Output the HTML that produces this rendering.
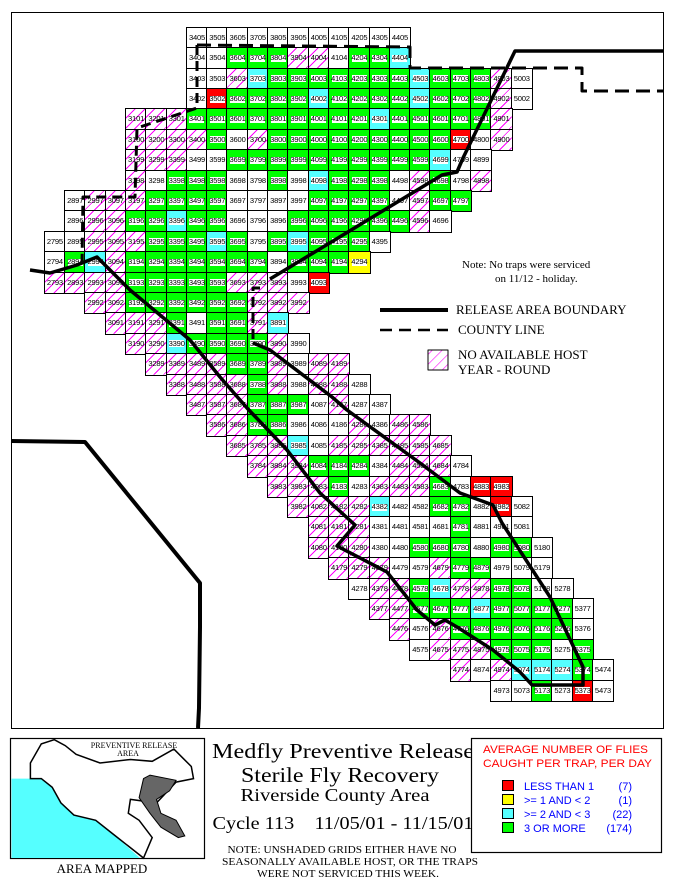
<!DOCTYPE html>
<html><head><meta charset="utf-8"><style>
body{margin:0;width:675px;height:886px;background:#fff;position:relative;overflow:hidden;font-family:"Liberation Sans",sans-serif}
.r{position:absolute;display:flex;height:20.4px}
.r i{font-style:normal;display:block;width:20.3px;height:20.4px;box-sizing:border-box;outline:1px solid #000;outline-offset:-0.5px;font-size:7.6px;line-height:20.4px;text-align:center;letter-spacing:-0.2px;color:#000;background-repeat:no-repeat;background-position:center;background-size:15px 7px}
.w{background-color:#fff}
.r .h{background-image:repeating-linear-gradient(135deg,#fff 0 6px,#f0f 6px 7px);background-size:auto;background-color:#fff}
.g{background-image:linear-gradient(#fff,#fff);background-color:#0f0}
.c{background-image:linear-gradient(#fff,#fff);background-color:#5ff}
.r .rd{background-image:linear-gradient(#fff,#fff);background-color:#f00}
.y{background-image:linear-gradient(#fff,#fff);background-color:#ff0}
svg{position:absolute;left:0;top:0}
</style></head><body>
<div style="position:absolute;left:11px;top:12px;width:651px;height:715px;border:1.5px solid #000"></div>

<div class="r" style="left:186.85px;top:27.8px"><i class="w">3405</i><i class="w">3505</i><i class="w">3605</i><i class="w">3705</i><i class="w">3805</i><i class="w">3905</i><i class="w">4005</i><i class="w">4105</i><i class="w">4205</i><i class="w">4305</i><i class="w">4405</i></div>
<div class="r" style="left:186.85px;top:48.2px"><i class="w">3404</i><i class="w">3504</i><i class="g">3604</i><i class="g">3704</i><i class="g">3804</i><i class="h">3904</i><i class="h">4004</i><i class="w">4104</i><i class="g">4204</i><i class="g">4304</i><i class="c">4404</i></div>
<div class="r" style="left:186.85px;top:68.6px"><i class="w">3403</i><i class="w">3503</i><i class="h">3603</i><i class="c">3703</i><i class="g">3803</i><i class="g">3903</i><i class="g">4003</i><i class="g">4103</i><i class="g">4203</i><i class="g">4303</i><i class="g">4403</i><i class="c">4503</i><i class="g">4603</i><i class="g">4703</i><i class="g">4803</i><i class="h">4903</i><i class="w">5003</i></div>
<div class="r" style="left:186.85px;top:89px"><i class="w">3402</i><i class="rd">3502</i><i class="g">3602</i><i class="g">3702</i><i class="g">3802</i><i class="g">3902</i><i class="c">4002</i><i class="g">4102</i><i class="g">4202</i><i class="g">4302</i><i class="g">4402</i><i class="c">4502</i><i class="g">4602</i><i class="g">4702</i><i class="g">4802</i><i class="h">4902</i><i class="w">5002</i></div>
<div class="r" style="left:125.95px;top:109.4px"><i class="h">3101</i><i class="h">3201</i><i class="h">3301</i><i class="g">3401</i><i class="g">3501</i><i class="g">3601</i><i class="g">3701</i><i class="g">3801</i><i class="g">3901</i><i class="g">4001</i><i class="g">4101</i><i class="g">4201</i><i class="c">4301</i><i class="g">4401</i><i class="g">4501</i><i class="g">4601</i><i class="g">4701</i><i class="g">4801</i><i class="h">4901</i></div>
<div class="r" style="left:125.95px;top:129.8px"><i class="h">3100</i><i class="h">3200</i><i class="h">3300</i><i class="h">3400</i><i class="g">3500</i><i class="w">3600</i><i class="h">3700</i><i class="g">3800</i><i class="g">3900</i><i class="g">4000</i><i class="g">4100</i><i class="g">4200</i><i class="g">4300</i><i class="g">4400</i><i class="g">4500</i><i class="g">4600</i><i class="rd">4700</i><i class="w">4800</i><i class="h">4900</i></div>
<div class="r" style="left:125.95px;top:150.2px"><i class="h">3199</i><i class="h">3299</i><i class="h">3399</i><i class="w">3499</i><i class="w">3599</i><i class="g">3699</i><i class="g">3799</i><i class="g">3899</i><i class="g">3999</i><i class="g">4099</i><i class="g">4199</i><i class="g">4299</i><i class="g">4399</i><i class="g">4499</i><i class="g">4599</i><i class="c">4699</i><i class="w">4799</i><i class="w">4899</i></div>
<div class="r" style="left:125.95px;top:170.6px"><i class="h">3198</i><i class="w">3298</i><i class="g">3398</i><i class="g">3498</i><i class="g">3598</i><i class="w">3698</i><i class="w">3798</i><i class="g">3898</i><i class="w">3998</i><i class="c">4098</i><i class="g">4198</i><i class="g">4298</i><i class="g">4398</i><i class="w">4498</i><i class="h">4598</i><i class="g">4698</i><i class="w">4798</i><i class="h">4898</i></div>
<div class="r" style="left:65.05px;top:191px"><i class="w">2897</i><i class="h">2997</i><i class="h">3097</i><i class="h">3197</i><i class="g">3297</i><i class="g">3397</i><i class="g">3497</i><i class="g">3597</i><i class="w">3697</i><i class="w">3797</i><i class="w">3897</i><i class="w">3997</i><i class="g">4097</i><i class="g">4197</i><i class="g">4297</i><i class="g">4397</i><i class="w">4497</i><i class="h">4597</i><i class="g">4697</i><i class="g">4797</i></div>
<div class="r" style="left:65.05px;top:211.4px"><i class="w">2896</i><i class="h">2996</i><i class="h">3096</i><i class="g">3196</i><i class="g">3296</i><i class="c">3396</i><i class="g">3496</i><i class="g">3596</i><i class="w">3696</i><i class="w">3796</i><i class="w">3896</i><i class="g">3996</i><i class="g">4096</i><i class="g">4196</i><i class="g">4296</i><i class="g">4396</i><i class="g">4496</i><i class="h">4596</i><i class="w">4696</i></div>
<div class="r" style="left:44.75px;top:231.8px"><i class="w">2795</i><i class="w">2895</i><i class="h">2995</i><i class="h">3095</i><i class="h">3195</i><i class="g">3295</i><i class="g">3395</i><i class="g">3495</i><i class="c">3595</i><i class="g">3695</i><i class="w">3795</i><i class="g">3895</i><i class="c">3995</i><i class="g">4095</i><i class="g">4195</i><i class="g">4295</i><i class="w">4395</i></div>
<div class="r" style="left:44.75px;top:252.2px"><i class="w">2794</i><i class="g">2894</i><i class="c">2994</i><i class="h">3094</i><i class="g">3194</i><i class="g">3294</i><i class="g">3394</i><i class="g">3494</i><i class="g">3594</i><i class="g">3694</i><i class="g">3794</i><i class="w">3894</i><i class="g">3994</i><i class="g">4094</i><i class="g">4194</i><i class="y">4294</i></div>
<div class="r" style="left:44.75px;top:272.6px"><i class="h">2793</i><i class="h">2893</i><i class="h">2993</i><i class="h">3093</i><i class="g">3193</i><i class="g">3293</i><i class="g">3393</i><i class="g">3493</i><i class="g">3593</i><i class="h">3693</i><i class="h">3793</i><i class="h">3893</i><i class="w">3993</i><i class="rd">4093</i></div>
<div class="r" style="left:85.35px;top:293px"><i class="h">2992</i><i class="h">3092</i><i class="g">3192</i><i class="g">3292</i><i class="g">3392</i><i class="g">3492</i><i class="g">3592</i><i class="g">3692</i><i class="h">3792</i><i class="h">3892</i><i class="h">3992</i></div>
<div class="r" style="left:105.65px;top:313.4px"><i class="h">3091</i><i class="h">3191</i><i class="h">3291</i><i class="g">3391</i><i class="w">3491</i><i class="g">3591</i><i class="g">3691</i><i class="h">3791</i><i class="c">3891</i></div>
<div class="r" style="left:125.95px;top:333.8px"><i class="h">3190</i><i class="h">3290</i><i class="c">3390</i><i class="g">3490</i><i class="g">3590</i><i class="g">3690</i><i class="g">3790</i><i class="h">3890</i><i class="w">3990</i></div>
<div class="r" style="left:146.25px;top:354.2px"><i class="h">3289</i><i class="h">3389</i><i class="h">3489</i><i class="h">3589</i><i class="g">3689</i><i class="g">3789</i><i class="h">3889</i><i class="w">3989</i><i class="h">4089</i><i class="h">4189</i></div>
<div class="r" style="left:166.55px;top:374.6px"><i class="h">3388</i><i class="h">3488</i><i class="h">3588</i><i class="h">3688</i><i class="g">3788</i><i class="h">3888</i><i class="w">3988</i><i class="h">4088</i><i class="h">4188</i><i class="w">4288</i></div>
<div class="r" style="left:186.85px;top:395px"><i class="h">3487</i><i class="h">3587</i><i class="h">3687</i><i class="g">3787</i><i class="g">3887</i><i class="g">3987</i><i class="w">4087</i><i class="h">4187</i><i class="w">4287</i><i class="w">4387</i></div>
<div class="r" style="left:207.15px;top:415.4px"><i class="h">3586</i><i class="h">3686</i><i class="g">3786</i><i class="g">3886</i><i class="w">3986</i><i class="w">4086</i><i class="w">4186</i><i class="h">4286</i><i class="w">4386</i><i class="h">4486</i><i class="h">4586</i></div>
<div class="r" style="left:227.45px;top:435.8px"><i class="h">3685</i><i class="h">3785</i><i class="h">3885</i><i class="c">3985</i><i class="w">4085</i><i class="h">4185</i><i class="h">4285</i><i class="h">4385</i><i class="h">4485</i><i class="h">4585</i><i class="h">4685</i></div>
<div class="r" style="left:247.75px;top:456.2px"><i class="h">3784</i><i class="h">3884</i><i class="h">3984</i><i class="g">4084</i><i class="g">4184</i><i class="g">4284</i><i class="w">4384</i><i class="h">4484</i><i class="h">4584</i><i class="h">4684</i><i class="w">4784</i></div>
<div class="r" style="left:268.05px;top:476.6px"><i class="h">3883</i><i class="h">3983</i><i class="h">4083</i><i class="g">4183</i><i class="w">4283</i><i class="h">4383</i><i class="h">4483</i><i class="h">4583</i><i class="g">4683</i><i class="w">4783</i><i class="rd">4883</i><i class="rd">4983</i></div>
<div class="r" style="left:288.35px;top:497px"><i class="h">3982</i><i class="h">4082</i><i class="h">4182</i><i class="h">4282</i><i class="c">4382</i><i class="w">4482</i><i class="w">4582</i><i class="g">4682</i><i class="g">4782</i><i class="w">4882</i><i class="rd">4982</i><i class="w">5082</i></div>
<div class="r" style="left:308.65px;top:517.4px"><i class="h">4081</i><i class="h">4181</i><i class="h">4281</i><i class="w">4381</i><i class="w">4481</i><i class="w">4581</i><i class="w">4681</i><i class="g">4781</i><i class="w">4881</i><i class="w">4981</i><i class="w">5081</i></div>
<div class="r" style="left:308.65px;top:537.8px"><i class="h">4080</i><i class="h">4180</i><i class="h">4280</i><i class="w">4380</i><i class="w">4480</i><i class="g">4580</i><i class="g">4680</i><i class="g">4780</i><i class="w">4880</i><i class="g">4980</i><i class="g">5080</i><i class="w">5180</i></div>
<div class="r" style="left:328.95px;top:558.2px"><i class="h">4179</i><i class="h">4279</i><i class="h">4379</i><i class="w">4479</i><i class="w">4579</i><i class="h">4679</i><i class="g">4779</i><i class="g">4879</i><i class="w">4979</i><i class="w">5079</i><i class="w">5179</i></div>
<div class="r" style="left:349.25px;top:578.6px"><i class="w">4278</i><i class="h">4378</i><i class="h">4478</i><i class="g">4578</i><i class="c">4678</i><i class="h">4778</i><i class="h">4878</i><i class="g">4978</i><i class="g">5078</i><i class="w">5178</i><i class="w">5278</i></div>
<div class="r" style="left:369.55px;top:599px"><i class="h">4377</i><i class="h">4477</i><i class="g">4577</i><i class="g">4677</i><i class="g">4777</i><i class="c">4877</i><i class="g">4977</i><i class="g">5077</i><i class="g">5177</i><i class="g">5277</i><i class="w">5377</i></div>
<div class="r" style="left:389.85px;top:619.4px"><i class="h">4476</i><i class="w">4576</i><i class="h">4676</i><i class="g">4776</i><i class="g">4876</i><i class="g">4976</i><i class="g">5076</i><i class="g">5176</i><i class="g">5276</i><i class="w">5376</i></div>
<div class="r" style="left:410.15px;top:639.8px"><i class="w">4575</i><i class="h">4675</i><i class="h">4775</i><i class="h">4875</i><i class="g">4975</i><i class="g">5075</i><i class="g">5175</i><i class="w">5275</i><i class="g">5375</i></div>
<div class="r" style="left:450.75px;top:660.2px"><i class="h">4774</i><i class="w">4874</i><i class="h">4974</i><i class="c">5074</i><i class="c">5174</i><i class="c">5274</i><i class="g">5374</i><i class="w">5474</i></div>
<div class="r" style="left:491.35px;top:680.6px"><i class="w">4973</i><i class="w">5073</i><i class="g">5173</i><i class="w">5273</i><i class="rd">5373</i><i class="w">5473</i></div>

<svg width="675" height="886" viewBox="0 0 675 886">
<defs><pattern id="hp" width="7" height="7" patternUnits="userSpaceOnUse" patternTransform="rotate(45)"><rect width="7" height="7" fill="#fff"/><line x1="0" y1="0" x2="0" y2="7" stroke="#f0f" stroke-width="1.2"/></pattern></defs>
<g fill="none" stroke="#000" stroke-linejoin="round">
<polyline points="11,441 85,442 200,583 200,627 199,708 198,728" stroke-width="4"/>
<polyline points="663,51 515,51 483,117 463,158 457,172 442,175 338,238 270,279" stroke-width="3.5"/>
<polyline points="253,343 270,350 332,397 347,410 420,463 460,493 493,505 502,523 550,597 583,667 583,685 532,685 520,672 493,650 457,627 445,620 435,625 417,610 387,572 337,546 355,525 320,493 287,450 247,408 220,377 190,340 130,290 97,257 77,265 67,268 50,273 30,270" stroke-width="3.5"/>
<polyline points="197,45 410,47 410,68 582,68 582,91 663,91" stroke-width="3" stroke-dasharray="14,7"/>
<polyline points="197,45 197,108 137,128 135,197 83,197 82,265" stroke-width="3" stroke-dasharray="10,6"/>
<polyline points="260,288 253,288 253,343" stroke-width="3" stroke-dasharray="10,6"/>
<line x1="380" y1="310" x2="448" y2="310" stroke-width="4"/>
<line x1="380" y1="330" x2="448" y2="330" stroke-width="2.5" stroke-dasharray="12,7"/>
<rect x="428" y="350" width="20" height="20" fill="url(#hp)" stroke-width="1"/>
</g>
<g font-family="Liberation Serif,serif" fill="#000">
<text x="462" y="268" font-size="11">Note: No traps were serviced</text>
<text x="495" y="282" font-size="11">on 11/12 - holiday.</text>
<text x="456" y="314" font-size="13">RELEASE AREA BOUNDARY</text>
<text x="458" y="334" font-size="13">COUNTY LINE</text>
<text x="458" y="359" font-size="13">NO AVAILABLE HOST</text>
<text x="458" y="374" font-size="13">YEAR - ROUND</text>
</g>
<rect x="10.5" y="738.5" width="194" height="120" fill="#fff" stroke="#000" stroke-width="1.2"/>
<polygon points="11.5,778.6 41.3,778.6 52.2,787.3 60.9,802.9 73.9,815.1 95.7,820.3 113,834 140,858 11.5,858" fill="#5ff"/>
<polygon points="30.4,763 41.3,743.9 54.3,739.7 65.2,745.6 76.1,754.3 100,763 130.4,759.5 152.2,761.3 173.9,749.1 182.6,757.8 191.3,766.5 193.5,778.6 176.1,782.1 156.5,802.9 130.4,799.4 128.3,813.3 139.1,820.3 152.2,837.6 143.5,858 113,834 95.7,820.3 73.9,815.1 60.9,802.9 52.2,787.3 41.3,778.6 30.4,778.6" fill="#fff" stroke="#000" stroke-width="1.5"/>
<polygon points="143.5,778.6 150,775.1 176.1,780.3 169.6,790.8 156.5,799.4 160.9,813.3 176.1,820.3 184.8,835.9 178.3,837.6 160.9,827.2 150,813.3 139.1,797.7" fill="#666" stroke="#000" stroke-width="1"/>
<g font-family="Liberation Serif,serif" fill="#000" text-anchor="middle">
<text x="134" y="748" font-size="8">PREVENTIVE RELEASE</text>
<text x="128" y="756" font-size="8">AREA</text>
<text x="102" y="873" font-size="13">AREA MAPPED</text>
<text x="343" y="758" font-size="21" textLength="262" lengthAdjust="spacingAndGlyphs">Medfly Preventive Release</text>
<text x="340" y="782" font-size="21" textLength="198" lengthAdjust="spacingAndGlyphs">Sterile Fly Recovery</text>
<text x="335" y="801" font-size="18" textLength="189" lengthAdjust="spacingAndGlyphs">Riverside County Area</text>
<text x="343" y="829" font-size="18" textLength="261" lengthAdjust="spacingAndGlyphs" xml:space="preserve">Cycle 113    11/05/01 - 11/15/01</text>
<text x="342" y="853" font-size="10" textLength="229" lengthAdjust="spacingAndGlyphs">NOTE: UNSHADED GRIDS EITHER HAVE NO</text>
<text x="350" y="865" font-size="10" textLength="256" lengthAdjust="spacingAndGlyphs">SEASONALLY AVAILABLE HOST, OR THE TRAPS</text>
<text x="348" y="877" font-size="10" textLength="182" lengthAdjust="spacingAndGlyphs">WERE NOT SERVICED THIS WEEK.</text>
</g>
<rect x="471.5" y="738.5" width="190" height="114" fill="#fff" stroke="#000" stroke-width="1.2"/>
<g font-family="Liberation Sans,sans-serif" font-size="11">
<text x="483" y="753" fill="#f00" textLength="165" lengthAdjust="spacingAndGlyphs">AVERAGE NUMBER OF FLIES</text>
<text x="483" y="767" fill="#f00" textLength="169" lengthAdjust="spacingAndGlyphs">CAUGHT PER TRAP, PER DAY</text>
<rect x="502.5" y="780.5" width="11" height="10" fill="#f00" stroke="#000"/>
<rect x="502.5" y="794.5" width="11" height="10" fill="#ff0" stroke="#000"/>
<rect x="502.5" y="808.5" width="11" height="10" fill="#5ff" stroke="#000"/>
<rect x="502.5" y="822.5" width="11" height="10" fill="#0f0" stroke="#000"/>
<g fill="#00f">
<text x="524" y="790">LESS THAN 1</text>
<text x="524" y="804">&gt;= 1 AND &lt; 2</text>
<text x="524" y="818">&gt;= 2 AND &lt; 3</text>
<text x="524" y="832">3 OR MORE</text>
<g text-anchor="end">
<text x="632" y="790">(7)</text>
<text x="632" y="804">(1)</text>
<text x="632" y="818">(22)</text>
<text x="632" y="832">(174)</text>
</g></g></g>
</svg>
</body></html>
